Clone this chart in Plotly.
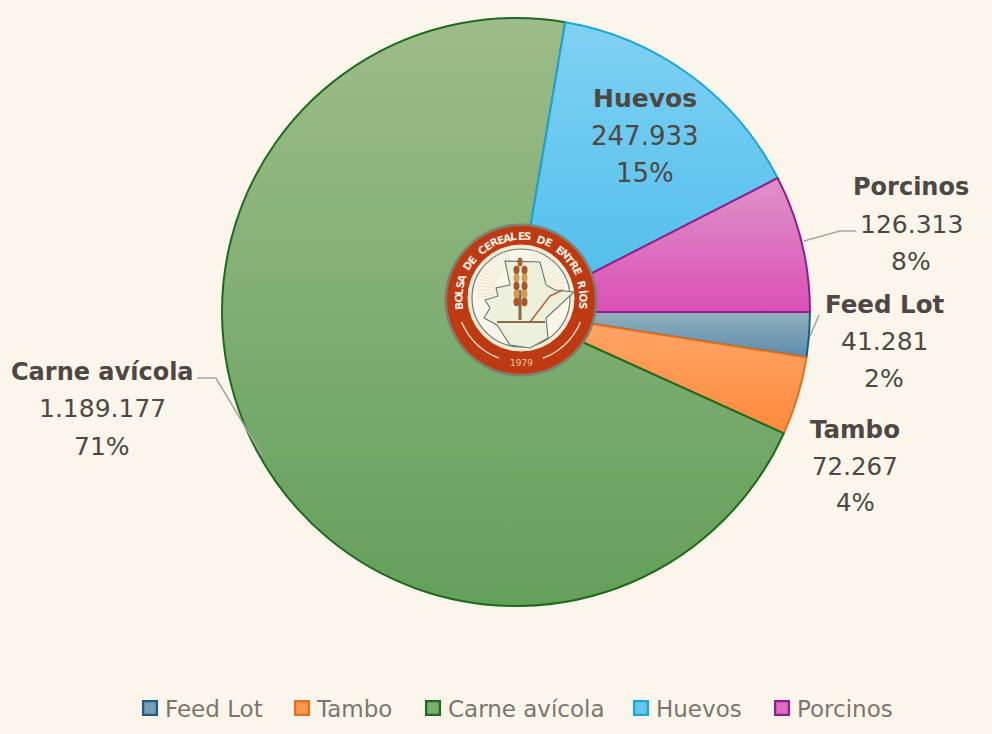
import math
import plotly.graph_objects as go

categories = ["Feed Lot", "Tambo", "Carne avícola", "Huevos", "Porcinos"]
values = [41281, 72267, 1189177, 247933, 126313]
value_labels = ["41.281", "72.267", "1.189.177", "247.933", "126.313"]
percent_labels = ["2%", "4%", "71%", "15%", "8%"]
fill_colors = ["#769EB5", "#FF9852", "#7FAE72", "#64C7EF", "#DC70BE"]
line_colors = ["#1B5E7E", "#E0701C", "#1E6B1E", "#1CA6D6", "#8E1F8E"]
grad_top = ["#93AFBC", "#FFA66B", "#9DBC8A", "#80D1F2", "#DE93C8"]
grad_bottom = ["#5A8DAE", "#FF8B3B", "#63A05A", "#4CBDEB", "#DB4FB6"]
label_pos = {"Feed Lot": (884, 304, 24.5, 25), "Tambo": (855, 429, 24.5, 24.5), "Carne avícola": (102, 372, 24, 25),
             "Huevos": (645, 99, 25, 26), "Porcinos": (911, 187, 24, 25)}
legend_x = [143, 295, 426, 634, 775]
leaders = [[(819, 315), (810, 336)], [(197, 378), (216, 378), (262, 455)], [(856, 231), (840, 231), (804, 241)]]

W, H = 992, 734
BG = "#FCF5EC"
TXT = "#4D4843"
def px(x): return x / W
def py(y): return 1 - y / H

fig = go.Figure(go.Pie(
    labels=categories, values=values, sort=False, direction="clockwise", rotation=90,
    textinfo="none", hoverinfo="label+value",
    marker=dict(colors=fill_colors, line=dict(color=line_colors, width=2)),
    domain=dict(x=[px(222), px(810)], y=[py(606), py(18)]),
))

shapes, annotations = [], []
def ellipse(cx, cy, rx, ry, **kw):
    shapes.append(dict(type="circle", xref="paper", yref="paper", x0=px(cx - rx), x1=px(cx + rx),
                       y0=py(cy + ry), y1=py(cy - ry), **kw))
def circle(cx, cy, r, **kw):
    ellipse(cx, cy, r, r, **kw)
def polyline(pts, color, width, fill=None):
    d = "M" + " L".join(f"{px(x):.5f},{py(y):.5f}" for x, y in pts)
    if fill:
        d += " Z"
    shapes.append(dict(type="path", xref="paper", yref="paper", path=d,
                       line=dict(color=color, width=width), fillcolor=fill or "rgba(0,0,0,0)"))

for pts in leaders:
    polyline(pts, "#A8A5A0", 1.6)

# labels
for name, val, pct in zip(categories, value_labels, percent_labels):
    x, y, fs_b, fs = label_pos[name]
    for i, (t, bold) in enumerate([(name, True), (val, False), (pct, False)]):
        annotations.append(dict(text=f"<b>{t}</b>" if bold else t, x=px(x), y=py(y + i * 37), xref="paper", yref="paper",
                                showarrow=False, xanchor="center", yanchor="middle",
                                font=dict(family="DejaVu Sans", size=fs_b if bold else fs, color=TXT)))

# logo
CX, CY = 521, 300
circle(CX, CY, 76, fillcolor="#8A7F70", line=dict(color="#6F7F6A", width=1))
circle(CX, CY, 74, fillcolor="#BE3A12", line=dict(width=0))
circle(CX, CY - 2, 53, fillcolor="#F5EBD6", line=dict(color="#F7E9D5", width=1))
circle(CX, CY - 2, 49, fillcolor="#FBF6E9", line=dict(color="#5F7F78", width=1.2))
for deg in range(-80, 81, 10):
    for side in (-1, 1):
        a = math.radians(side * (deg + 90) / 2 + side * 15)
        polyline([(CX + 26 * math.sin(a), 290 - 26 * math.cos(a)), (CX + 44 * math.sin(a), 290 - 44 * math.cos(a))],
                 "#EBDCC4", 0.8)
map_pts = [(505, 261), (540, 262), (546, 285), (555, 290), (574, 292), (546, 318), (548, 338), (530, 348), (510, 345),
           (497, 325), (484, 318), (490, 308), (485, 300), (498, 296), (496, 288), (510, 285)]
polyline(map_pts, "#63786A", 1.1, fill="#EDF1DC")
polyline([(520, 290), (520, 320)], "#8C6A45", 3)
polyline([(497, 322), (545, 322)], "#8C6A45", 2)
polyline([(530, 322), (550, 296), (563, 290)], "#B66A4A", 1.6)
ellipse(CX - 1, 262, 2.5, 4.5, fillcolor="#A8622F", line=dict(width=0))
for k in range(5):
    yy = 270 + k * 8
    for dx in (-4.5, 3.5):
        ellipse(CX + dx, yy, 3, 4.2, fillcolor="#A8562A" if k % 2 == 0 else "#D39A55", line=dict(width=0))
logo_text = "BOLSA DE CEREALES DE ENTRE RÍOS"
n = len(logo_text)
for i, ch in enumerate(logo_text):
    if ch == " ":
        continue
    a = -96 + 192 * i / (n - 1)
    r = 63
    lx = CX + r * math.sin(math.radians(a))
    ly = CY - 1 - r * math.cos(math.radians(a))
    annotations.append(dict(text=f"<b>{ch}</b>", x=px(lx), y=py(ly), xref="paper", yref="paper", showarrow=False,
                            textangle=a, xanchor="center", yanchor="middle",
                            font=dict(family="DejaVu Sans", size=10.5, color="#FBEFE0")))
def arc(a0, a1, r):
    return [(CX + r * math.sin(math.radians(a0 + (a1 - a0) * t / 14)), CY - 2 - r * math.cos(math.radians(a0 + (a1 - a0) * t / 14))) for t in range(15)]
polyline(arc(-112, -160, 64), "#F4DCC4", 1.4)
polyline(arc(112, 160, 64), "#F4DCC4", 1.4)
annotations.append(dict(text="1979", x=px(CX), y=py(363), xref="paper", yref="paper", showarrow=False,
                        font=dict(family="DejaVu Sans", size=9, color="#EBC8A8")))

fig.update_layout(
    width=W, height=H, margin=dict(l=0, r=0, t=0, b=0), paper_bgcolor=BG, plot_bgcolor=BG,
    shapes=shapes, annotations=annotations, showlegend=True,
    legend=dict(orientation="h", x=0, xanchor="left", y=py(708), yanchor="middle",
                font=dict(family="DejaVu Sans", size=23, color="#7C756D"), itemsizing="constant",
                bgcolor="rgba(0,0,0,0)", traceorder="normal"),
)

post = """
document.body.style.margin='0';
var gd=document.getElementById('{plot_id}');
function applyGrad(){
 var tops=%s, bots=%s, lx=%s;
 var svg=gd.querySelector('svg.main-svg'); var defs=svg.querySelector('defs');
 tops.forEach(function(t,i){
  var id='slicegrad'+i;
  if(!document.getElementById(id)){
   var g=document.createElementNS('http://www.w3.org/2000/svg','linearGradient');
   g.setAttribute('id',id);g.setAttribute('x1','0');g.setAttribute('y1','0');g.setAttribute('x2','0');g.setAttribute('y2','1');
   [[0,t],[1,bots[i]]].forEach(function(s){var st=document.createElementNS('http://www.w3.org/2000/svg','stop');
    st.setAttribute('offset',s[0]);st.setAttribute('stop-color',s[1]);g.appendChild(st);});
   defs.appendChild(g);
  }
 });
 gd.querySelectorAll('.slice path.surface').forEach(function(p,i){p.style.fill='url(#slicegrad'+i+')';});
 var leg=gd.querySelector('.legend');
 var sb=leg.querySelector('.scrollbox'); if(sb){sb.removeAttribute('clip-path');}
 var lg=leg.getAttribute('transform').match(/translate\\(([-\\d.]+)/); var ox=lg?parseFloat(lg[1]):0;
 leg.querySelectorAll('.traces').forEach(function(tr,i){
  var m=tr.getAttribute('transform').match(/,\\s*([-\\d.]+)/); var y=m?m[1]:0;
  tr.setAttribute('transform','translate('+(lx[i]-ox-20)+','+y+')');
  var tx=tr.querySelector('text.legendtext'); if(tx){tx.setAttribute('x','42');}
  tr.querySelectorAll('.legendpoints path').forEach(function(p){p.setAttribute('transform','translate(27,0) scale(1.15)');});
 });
}
applyGrad();
""" % (grad_top, grad_bottom, legend_x)
fig.write_html("out.html", post_script=post, config=dict(displayModeBar=False))
